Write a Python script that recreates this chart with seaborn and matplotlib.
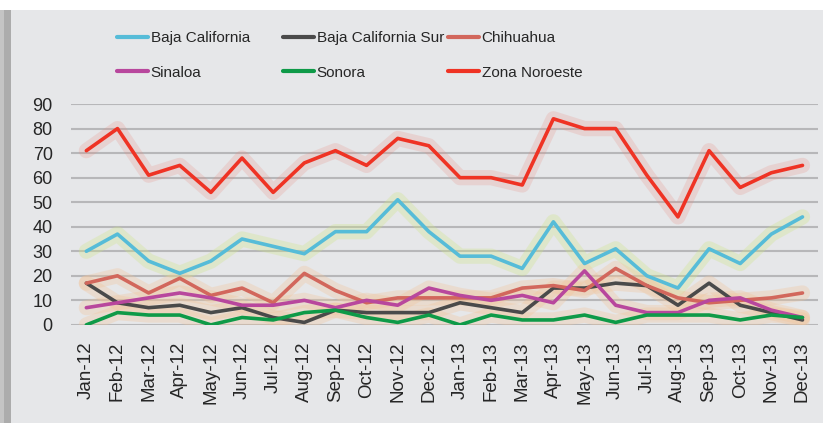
import pandas as pd
import matplotlib.pyplot as plt
import seaborn as sns
from matplotlib.lines import Line2D
from matplotlib.patches import Rectangle

# monthly values
months = ['Jan-12', 'Feb-12', 'Mar-12', 'Apr-12', 'May-12', 'Jun-12', 'Jul-12', 'Aug-12',
          'Sep-12', 'Oct-12', 'Nov-12', 'Dec-12', 'Jan-13', 'Feb-13', 'Mar-13', 'Apr-13',
          'May-13', 'Jun-13', 'Jul-13', 'Aug-13', 'Sep-13', 'Oct-13', 'Nov-13', 'Dec-13']
baja_california = [30, 37, 26, 21, 26, 35, 32, 29, 38, 38, 51, 38, 28, 28, 23, 42, 25, 31, 20, 15, 31, 25, 37, 44]
baja_california_sur = [17, 9, 7, 8, 5, 7, 3, 1, 6, 5, 5, 5, 9, 7, 5, 15, 15, 17, 16, 8, 17, 8, 5, 2]
chihuahua = [17, 20, 13, 19, 12, 15, 9, 21, 14, 9, 11, 11, 11, 11, 15, 16, 14, 23, 16, 11, 9, 10, 11, 13]
sinaloa = [7, 9, 11, 13, 11, 8, 8, 10, 7, 10, 8, 15, 12, 10, 12, 9, 22, 8, 5, 5, 10, 11, 6, 3]
sonora = [0, 5, 4, 4, 0, 3, 2, 5, 6, 3, 1, 4, 0, 4, 2, 2, 4, 1, 4, 4, 4, 2, 4, 3]
zona_noroeste = [71, 80, 61, 65, 54, 68, 54, 66, 71, 65, 76, 73, 60, 60, 57, 84, 80, 80, 61, 44, 71, 56, 62, 65]

series = {
    'Baja California': baja_california,
    'Baja California Sur': baja_california_sur,
    'Chihuahua': chihuahua,
    'Sinaloa': sinaloa,
    'Sonora': sonora,
    'Zona Noroeste': zona_noroeste,
}
colors = ['#56bcd8', '#4a4a4a', '#d2675c', '#b8479d', '#0e9a48', '#ef3324']
glows = ['#cfe58a', '#f2c49a', '#f2c49a', '#f2c49a', '#f2c49a', '#e88a80']

rows = []
for name, vals in series.items():
    for m, v in zip(months, vals):
        rows.append({'Month': m, 'Value': v, 'Serie': name})
df = pd.DataFrame(rows)

sns.set_style('white')
plt.rcParams['font.family'] = ['Liberation Sans', 'DejaVu Sans']

fig = plt.figure(figsize=(8.23, 4.23), dpi=100, facecolor='white')
# panel background with left shadow
fig.patches.append(Rectangle((0.0, 0.0), 0.014, 0.976, transform=fig.transFigure,
                             facecolor='#c4c4c4', edgecolor='none', zorder=-3))
fig.patches.append(Rectangle((0.005, 0.0), 0.009, 0.976, transform=fig.transFigure,
                             facecolor='#acacac', edgecolor='none', zorder=-3))
fig.patches.append(Rectangle((0.0134, 0.0), 0.99, 0.976, transform=fig.transFigure,
                             facecolor='#e6e7e9', edgecolor='none', zorder=-2))

ax = fig.add_axes([0.086, 0.232, 0.908, 0.522])
ax.set_facecolor('none')

sns.lineplot(data=df, x='Month', y='Value', hue='Serie', hue_order=list(series.keys()),
             palette=colors, linewidth=2.6, sort=False, legend=False, ax=ax, zorder=3)

# soft glow under each line
for line, g in zip(list(ax.lines), glows):
    a = 0.22 if g == '#e88a80' else 0.32
    ax.plot(line.get_xdata(), line.get_ydata(), color=g, linewidth=11, alpha=a,
            solid_joinstyle='round', solid_capstyle='round', zorder=1)

ax.set_xlim(-0.5, len(months) - 0.5)
ax.set_ylim(0, 90)
ax.set_yticks(range(0, 91, 10))
ax.yaxis.grid(True, color='#b7b7b9', linewidth=1.5)
ax.set_axisbelow(True)
ax.set_xlabel('')
ax.set_ylabel('')
for s in ax.spines.values():
    s.set_visible(False)
ax.tick_params(axis='y', length=0, pad=13, labelsize=13)
ax.tick_params(axis='x', length=0, pad=12, labelsize=13.5)
plt.setp(ax.get_xticklabels(), rotation=90, va='top', ha='center')

# legend in three columns, placed like the original
names = list(series.keys())
handles = [Line2D([0], [0], color=c, linewidth=3) for c in colors]
col_x = [117, 283, 448]
for i, x in enumerate(col_x):
    idx = [i, i + 3]
    fig.legend([handles[j] for j in idx], [names[j] for j in idx],
               loc='upper left', bbox_to_anchor=(x / 823, 1 - 31 / 423),
               frameon=False, fontsize=11, handlelength=2.0, handletextpad=0.2,
               labelspacing=1.35, borderpad=0, borderaxespad=0)

plt.savefig('out.png', dpi=100, facecolor=fig.get_facecolor())
